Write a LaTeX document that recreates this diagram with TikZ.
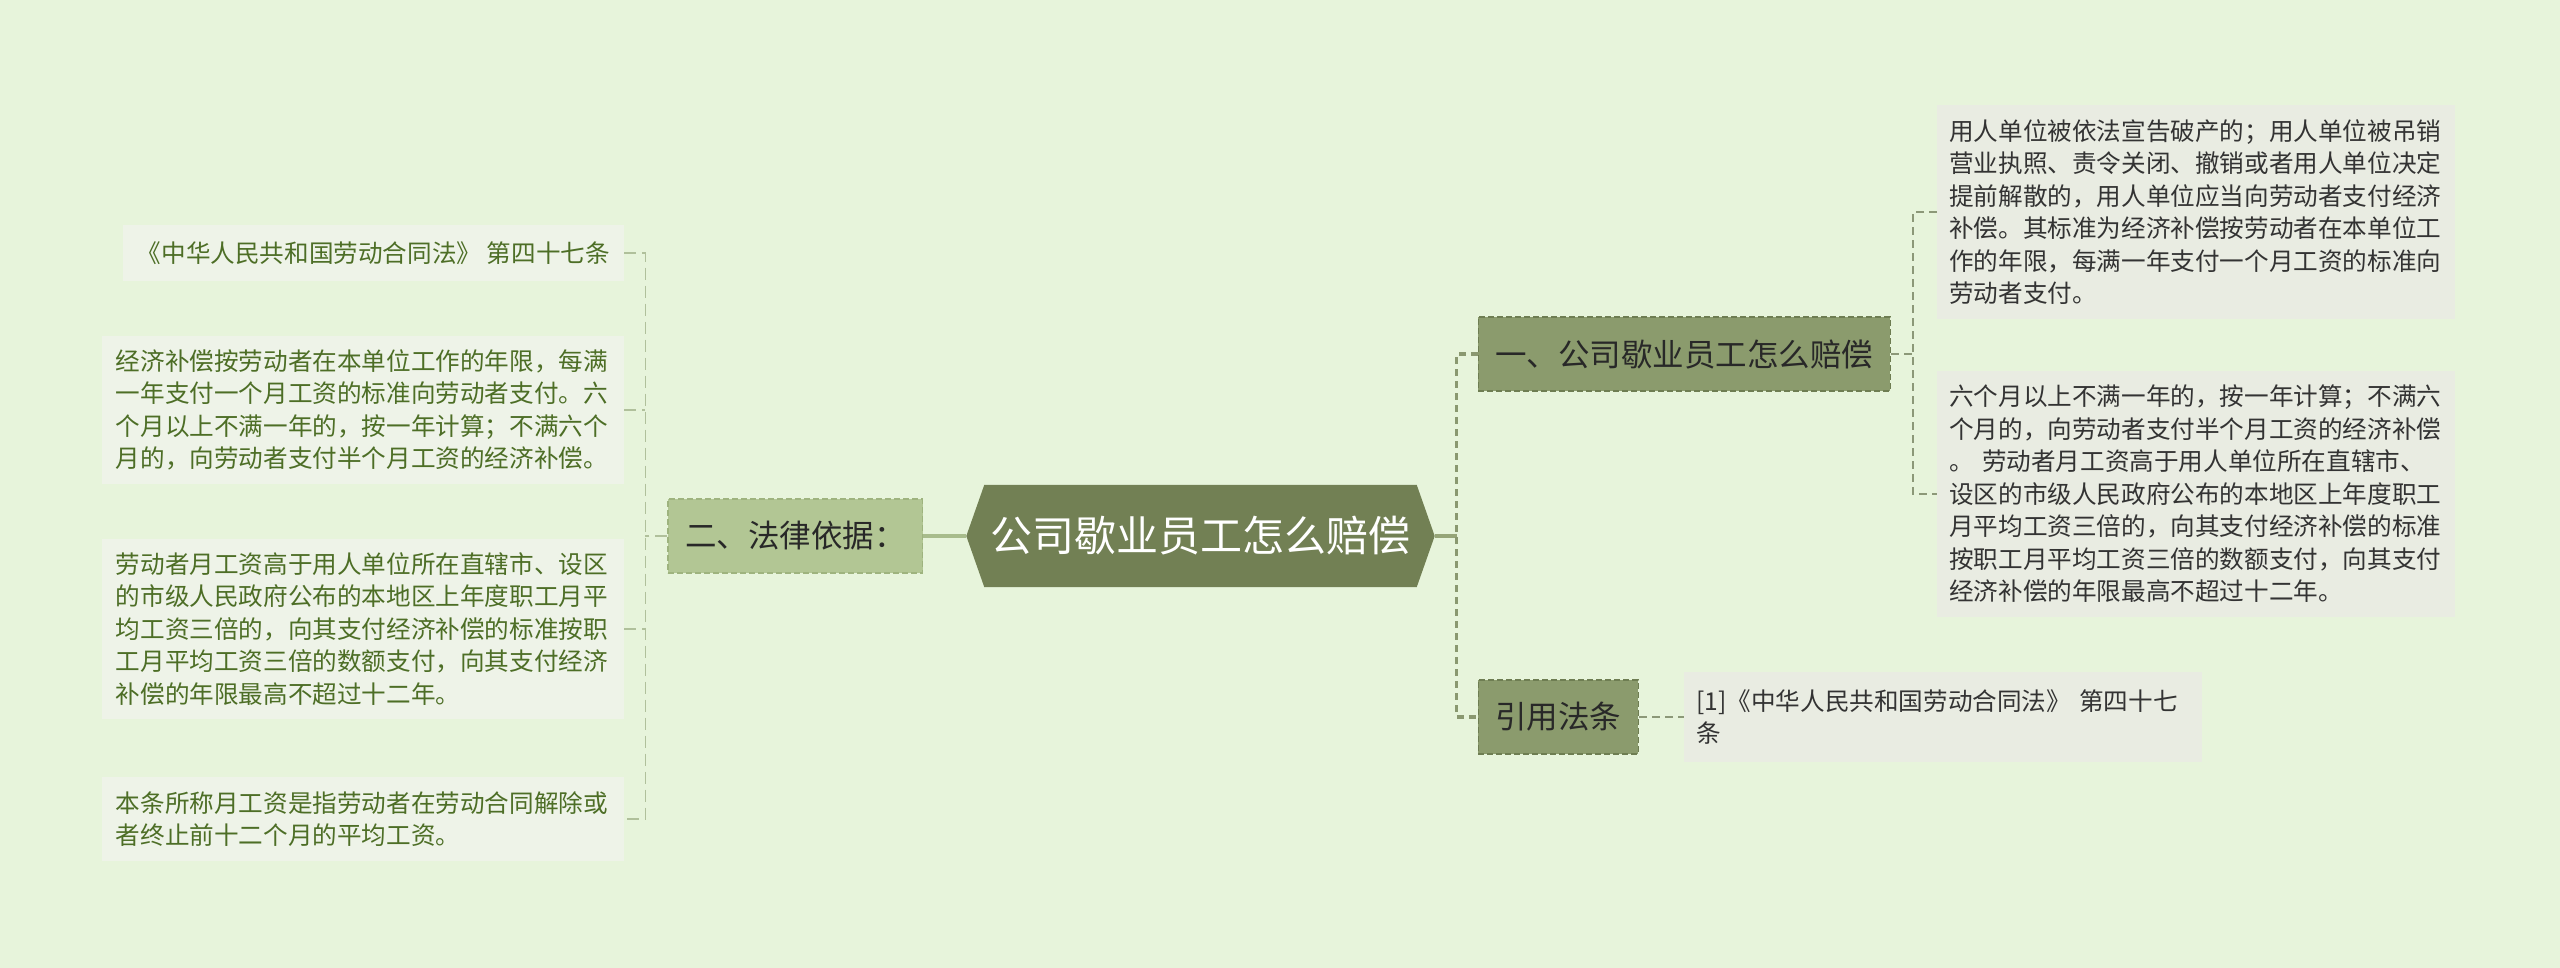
\documentclass[tikz,border=0pt]{standalone}
\usepackage{fontspec}
\newfontfamily\cjk{Noto Sans CJK SC}
\usetikzlibrary{positioning,backgrounds}

\definecolor{bgGreen}{RGB}{231,244,219}
\definecolor{rootFill}{RGB}{114,128,84}
\definecolor{topicFill}{RGB}{139,155,109}
\definecolor{topicEdge}{RGB}{110,125,82}
\definecolor{lawFill}{RGB}{178,198,148}
\definecolor{lawEdge}{RGB}{158,179,126}
\definecolor{topicText}{RGB}{40,40,40}
\definecolor{noteGrey}{RGB}{233,236,226}
\definecolor{notePale}{RGB}{238,243,232}
\definecolor{noteText}{RGB}{51,51,51}
\definecolor{noteGreen}{RGB}{77,110,38}
\definecolor{trunkLine}{RGB}{138,152,112}
\definecolor{twigLine}{RGB}{140,152,120}
\definecolor{twigPale}{RGB}{176,192,155}
\definecolor{stemLeft}{RGB}{168,188,140}
\definecolor{stemRight}{RGB}{150,165,120}

\begin{document}
\begin{tikzpicture}[x=1pt, y=-1pt,
  hexroot/.style={minimum width=432pt, minimum height=102pt, inner sep=0pt,
                  text=white, font=\cjk\fontsize{42}{50}\selectfont},
  topic/.style={line width=1.5pt, dash pattern=on 6pt off 3pt, minimum height=74pt,
                inner xsep=17pt, inner ysep=0pt, text=topicText,
                font=\cjk\fontsize{31.5}{38}\selectfont},
  topicDark/.style={topic, fill=topicFill, draw=topicEdge},
  topicLight/.style={topic, fill=lawFill, draw=lawEdge},
  noteR/.style={fill=noteGrey, text=noteText, inner xsep=12pt, inner ysep=14pt,
                align=left, font=\cjk\fontsize{24.6}{32.5}\selectfont},
  noteL/.style={noteR, fill=notePale, text=noteGreen, inner xsep=14pt},
  trunk/.style={line width=3.5pt, dash pattern=on 7pt off 5pt, draw=trunkLine},
  twig/.style={line width=1.5pt, dash pattern=on 8pt off 5pt, draw=twigLine},
  twigL/.style={line width=1.5pt, dash pattern=on 12pt off 6pt, draw=twigPale},
  stem/.style={line width=3.5pt},
]
\useasboundingbox (0,0) rectangle (2560,968);

\node[hexroot] (root) at (1200.5,536) {公司歇业员工怎么赔偿};
\coordinate (rootW) at ([xshift=-18pt]root.west);
\coordinate (rootE) at ([xshift=18pt]root.east);

\node[topicLight, left=61pt of root] (law) {二、法律依据：};
\node[topicDark, above right=93pt and 61pt of root] (how) {一、公司歇业员工怎么赔偿};
\node[topicDark, below right=92pt and 61pt of root] (cite) {引用法条};

\node[noteR, text width=494pt, anchor=west] (rule) at (1937,212)
  {用人单位被依法宣告破产的；用人单位被吊销\\营业执照、责令关闭、撤销或者用人单位决定\\提前解散的，用人单位应当向劳动者支付经济\\补偿。其标准为经济补偿按劳动者在本单位工\\作的年限，每满一年支付一个月工资的标准向\\劳动者支付。};
\node[noteR, text width=494pt, anchor=west] (excess) at (1937,494)
  {六个月以上不满一年的，按一年计算；不满六\\个月的，向劳动者支付半个月工资的经济补偿\\。 劳动者月工资高于用人单位所在直辖市、\\设区的市级人民政府公布的本地区上年度职工\\月平均工资三倍的，向其支付经济补偿的标准\\按职工月平均工资三倍的数额支付，向其支付\\经济补偿的年限最高不超过十二年。};
\node[noteR, text width=494pt, minimum height=90pt, right=45pt of cite] (src)
  {[1]《中华人民共和国劳动合同法》 第四十七\\条};

\node[noteL, minimum height=56pt, anchor=east] (statute) at (624,253)
  {《中华人民共和国劳动合同法》 第四十七条};
\node[noteL, text width=494pt, anchor=east] (yearsPay) at (624,410)
  {经济补偿按劳动者在本单位工作的年限，每满\\一年支付一个月工资的标准向劳动者支付。六\\个月以上不满一年的，按一年计算；不满六个\\月的，向劳动者支付半个月工资的经济补偿。};
\node[noteL, text width=494pt, anchor=east] (cap) at (624,629)
  {劳动者月工资高于用人单位所在直辖市、设区\\的市级人民政府公布的本地区上年度职工月平\\均工资三倍的，向其支付经济补偿的标准按职\\工月平均工资三倍的数额支付，向其支付经济\\补偿的年限最高不超过十二年。};
\node[noteL, text width=494pt, anchor=east] (monthly) at (624,819)
  {本条所称月工资是指劳动者在劳动合同解除或\\者终止前十二个月的平均工资。};

\begin{scope}[on background layer]
  \fill[bgGreen] (0,0) rectangle (2560,968);
  \fill[rootFill] (rootW) -- (root.north west) -- (root.north east) -- (rootE)
    -- (root.south east) -- (root.south west) -- cycle;
\end{scope}

\coordinate (hubL) at ([xshift=-22pt]law.west);
\coordinate (hubR) at ([xshift=22pt]rootE);
\coordinate (hubHow) at ([xshift=22pt]how.east);

\draw[stem, draw=stemLeft] (rootW) -- (law.east);
\draw[twigL] (law.west) -- (hubL);
\draw[twigL] (statute.east) -| (hubL) |- (monthly.east);
\draw[twigL] (yearsPay.east) -- (yearsPay.east -| hubL);
\draw[twigL] (cap.east) -- (cap.east -| hubL);

\draw[stem, draw=stemRight] (rootE) -- (hubR);
\draw[trunk] (how.west) -| (hubR) |- (cite.west);
\draw[twig] (how.east) -- (hubHow);
\draw[twig] (rule.west) -| (hubHow) |- (excess.west);
\draw[twig] (cite.east) -- (src.west);
\end{tikzpicture}
\end{document}
